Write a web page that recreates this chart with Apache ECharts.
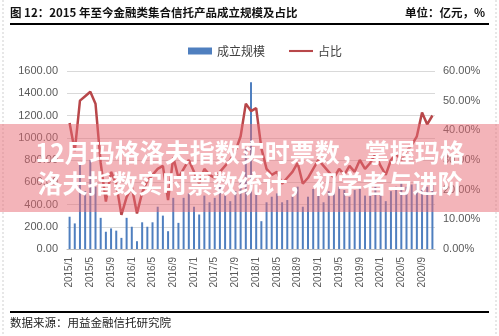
<!DOCTYPE html>
<html>
<head>
<meta charset="utf-8">
<script src="https://cdn.jsdelivr.net/npm/echarts@6/dist/echarts.min.js"></script>
<style>
  html, body { margin: 0; padding: 0; background: #fff; }
  #chart { width: 499px; height: 336px; }
</style>
</head>
<body>
<div id="chart"></div>
<script>
// Monthly categories, 2015/1 – 2020/11
const months = [];
for (let y = 2015; y <= 2020; y++) {
  for (let m = 1; m <= 12; m++) {
    if (y === 2020 && m > 11) break;
    months.push(y + '/' + m);
  }
}

// 成立规模 (亿元)
const scaleValues = [
  290, 230, 760, 520, 800, 560, 280, 155, 185, 165, 100, 280,
  200, 70, 240, 200, 240, 380, 300, 160, 460, 235, 460, 500,
  380, 310, 480, 420, 460, 560, 480, 430, 520, 640, 900, 1500,
  560, 250, 420, 470, 500, 420, 440, 470, 560, 380, 470, 540,
  520, 420, 520, 540, 560, 530, 470, 530, 560, 480, 520, 560,
  500, 430, 520, 560, 600, 560, 580, 600, 540, 560, 580
];

// 占比 (%)
const shareValues = [
  42.5, 33, 50, 51.5, 53, 49, 29, 16, 26, 22, 11.5, 17.5,
  21, 12, 19, 23, 25, 27, 28, 16.5, 31, 24, 27, 30,
  26, 22, 27, 25, 24, 26, 28, 30, 33, 38, 49, 46.5,
  47.5, 34, 27, 25, 26, 22, 24, 26, 29, 22, 24, 27,
  30, 28, 26, 24, 27, 25, 28, 26, 30, 27, 29, 32,
  28, 25, 30, 32, 30, 33, 35, 38, 46, 42, 45
];

const leftTicks = { min: 0, max: 1600, interval: 200 };
const rightTicks = { min: 0, max: 60, interval: 10 };

const titleText = '图 12：2015 年至今金融类集合信托产品成立规模及占比';
const unitText = '单位：亿元，%';
const sourceText = '数据来源：用益金融信托研究院';
const bannerLines = ['12月玛格洛夫指数实时票数，掌握玛格', '洛夫指数实时票数统计，初学者与进阶'];

const cjk = '"Noto Sans CJK SC", "Liberation Sans", sans-serif';
const latin = '"Liberation Sans", Arial, sans-serif';

const chart = echarts.init(document.getElementById('chart'), null, { renderer: 'canvas' });

chart.setOption({
  animation: false,
  backgroundColor: '#ffffff',
  legend: {
    top: 40,
    left: 183,
    itemGap: 24,
    itemWidth: 24,
    itemHeight: 7,
    textStyle: { fontFamily: cjk, fontSize: 12, color: '#404040' },
    data: [
      { name: '成立规模', icon: 'rect' },
      { name: '占比', icon: 'path://M0,0 H40 V3.5 H0 Z' }
    ]
  },
  grid: { left: 67, right: 64, top: 71, bottom: 87, containLabel: false },
  xAxis: {
    type: 'category',
    data: months,
    boundaryGap: true,
    axisLine: { lineStyle: { color: '#bfbfbf' } },
    axisTick: { show: false },
    axisLabel: {
      interval: 3,
      rotate: 90,
      margin: 8,
      fontFamily: latin,
      fontSize: 10,
      color: '#595959'
    }
  },
  yAxis: [
    {
      type: 'value',
      min: leftTicks.min, max: leftTicks.max, interval: leftTicks.interval,
      axisLine: { show: false },
      axisTick: { show: false },
      splitLine: { lineStyle: { color: '#d9d9d9' } },
      axisLabel: {
        margin: 9,
        fontFamily: latin, fontSize: 11, color: '#595959',
        formatter: v => v.toFixed(2)
      }
    },
    {
      type: 'value',
      min: rightTicks.min, max: rightTicks.max, interval: rightTicks.interval,
      axisLine: { show: false },
      axisTick: { show: false },
      splitLine: { show: false },
      axisLabel: {
        margin: 8,
        fontFamily: latin, fontSize: 11, color: '#595959',
        formatter: v => v.toFixed(2) + '%'
      }
    }
  ],
  series: [
    {
      name: '成立规模',
      type: 'bar',
      data: scaleValues,
      barWidth: 2,
      itemStyle: { color: '#4f7fbf' }
    },
    {
      name: '占比',
      type: 'line',
      yAxisIndex: 1,
      data: shareValues,
      symbol: 'none',
      lineStyle: { color: '#b8474a', width: 2.5 },
      itemStyle: { color: '#b8474a' }
    }
  ],
  graphic: [
    // faint dotted page frame
    { type: 'line', shape: { x1: 3, y1: 0, x2: 3, y2: 336 }, style: { stroke: '#cfcfcf', lineWidth: 1, lineDash: [2, 2] }, z: 1 },
    { type: 'line', shape: { x1: 496, y1: 0, x2: 496, y2: 336 }, style: { stroke: '#cfcfcf', lineWidth: 1, lineDash: [2, 2] }, z: 1 },
    // header
    { type: 'text', left: 10, top: 7, style: { text: titleText, font: 'bold 11.5px ' + cjk, fill: '#111' }, z: 10 },
    { type: 'text', right: 14, top: 7, style: { text: unitText, font: 'bold 11.5px ' + cjk, fill: '#111' }, z: 10 },
    { type: 'rect', shape: { x: 10, y: 23, width: 479, height: 2 }, style: { fill: '#000' }, z: 10 },
    // footer
    { type: 'rect', shape: { x: 10, y: 311, width: 479, height: 2 }, style: { fill: '#000' }, z: 10 },
    { type: 'text', left: 10, top: 317, style: { text: sourceText, font: '11.5px ' + cjk, fill: '#222' }, z: 10 },
    // translucent banner with headline
    { type: 'rect', shape: { x: 0, y: 124, width: 499, height: 88 }, style: { fill: 'rgba(232,105,115,0.5)' }, z: 100 },
    {
      type: 'text', x: 250, y: 152, z: 101,
      style: {
        text: bannerLines[0], font: 'bold 25px ' + cjk, fill: '#ffffff',
        align: 'center', verticalAlign: 'middle',
        shadowBlur: 3, shadowColor: 'rgba(90,30,30,0.55)', shadowOffsetX: 0, shadowOffsetY: 1
      }
    },
    {
      type: 'text', x: 250, y: 183, z: 101,
      style: {
        text: bannerLines[1], font: 'bold 25px ' + cjk, fill: '#ffffff',
        align: 'center', verticalAlign: 'middle',
        shadowBlur: 3, shadowColor: 'rgba(90,30,30,0.55)', shadowOffsetX: 0, shadowOffsetY: 1
      }
    }
  ]
});
</script>
</body>
</html>
